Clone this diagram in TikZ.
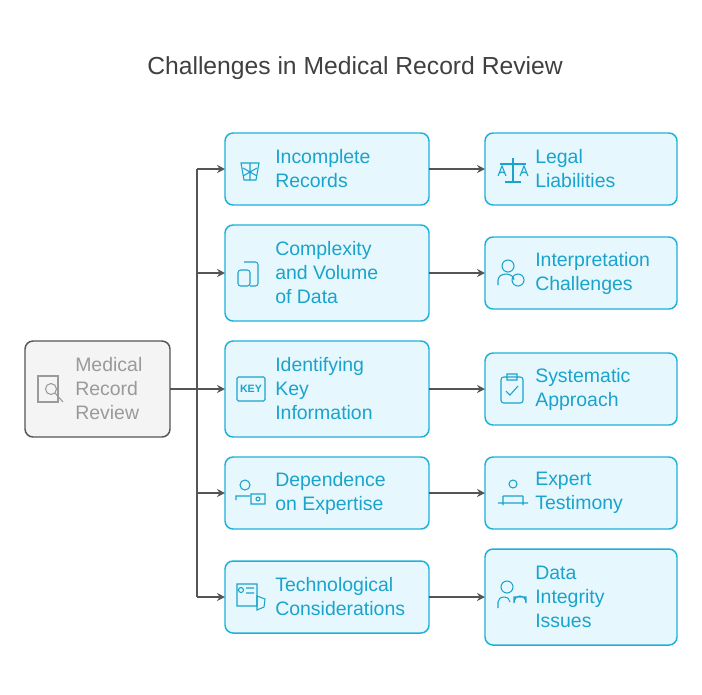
\documentclass[tikz,border=0pt]{standalone}
\usepackage{fontspec}
\setmainfont{Liberation Sans}
\usetikzlibrary{positioning,arrows.meta}
\definecolor{cyanfill}{HTML}{E6F8FD}
\definecolor{cyanline}{HTML}{1DB1DA}
\definecolor{cyantext}{HTML}{1AA3CC}
\definecolor{greyfill}{HTML}{F4F4F4}
\definecolor{greyline}{HTML}{555555}
\definecolor{greytext}{HTML}{9A9A9A}
\tikzset{
  box/.style={draw=cyanline, fill=cyanfill, rounded corners=6pt, line width=1.1pt},
  txt/.style={text=cyantext, font=\fontsize{14.6}{18}\selectfont, align=left, anchor=west, inner sep=0pt},
  icon/.style={draw=cyantext, line width=0.8pt},
  link/.style={draw=greyline, line width=1pt, -{Stealth[length=6pt,width=6pt]}}
}
\begin{document}
\begin{tikzpicture}[x=0.75pt,y=-0.75pt]
\useasboundingbox (0,0) rectangle (702,694);
\node (title) at (355,68) {\fontsize{18.5}{20}\selectfont\color{black!75}Challenges in Medical Record Review};

% left node
\draw[fill=greyfill, draw=greyline, rounded corners=6pt, line width=1.1pt] (25,341) rectangle (170,437);
\coordinate (src) at (170,389);
\node[txt, text=greytext] (srct) at (75,389) {Medical\\Record\\Review};
\draw[draw=greytext, line width=0.8pt] (38,376) rectangle (58,402);
\draw[draw=greytext, line width=0.8pt] (51,389) circle (5.5);
\draw[draw=greytext, line width=0.8pt] (55,393) -- (63,402);

% middle column
\foreach \n/\ya/\yb/\t in {1/133/205/{Incomplete\\Records},
                           2/225/321/{Complexity\\and Volume\\of Data},
                           3/341/437/{Identifying\\Key\\Information},
                           4/457/529/{Dependence\\on Expertise},
                           5/561/633/{Technological\\Considerations}}{
  \draw[box] (225,\ya) rectangle (429,\yb);
  \coordinate (m\n in) at (225,{(\ya+\yb)/2});
  \coordinate (m\n out) at (429,{(\ya+\yb)/2});
  \node[txt] (m\n) at (275,{(\ya+\yb)/2}) {\t};
}
% right column
\foreach \n/\ya/\yb/\t in {1/133/205/{Legal\\Liabilities},
                           2/237/309/{Interpretation\\Challenges},
                           3/353/425/{Systematic\\Approach},
                           4/457/529/{Expert\\Testimony},
                           5/549/645/{Data\\Integrity\\Issues}}{
  \draw[box] (485,\ya) rectangle (677,\yb);
  \coordinate (r\n in) at (485,{(\ya+\yb)/2});
  \node[txt] (r\n) at (535,{(\ya+\yb)/2}) {\t};
}

% icons
\draw[icon] (241,163) -- (259,163) -- (256,180) -- (244,180) -- cycle;
\draw[icon] (243,168) -- (257,176) (257,168) -- (243,176) (250,163) -- (250,180);
\draw[icon, rounded corners=2pt] (238,270) rectangle (250,286) (244,262) -- (258,262) -- (258,286) -- (250,286);
\draw[icon, rounded corners=1pt] (237,377) rectangle (265,401);
\node[text=cyantext, font=\bfseries\fontsize{8}{8}\selectfont] (keyi) at (251,389) {KEY};
\draw[icon] (245,485) circle (5) (236,500) -- (236,496) -- (250,496);
\draw[icon] (251,494) rectangle (265,504) (258,499) circle (2);
\draw[icon] (237,584) rectangle (257,606) (241,590) circle (2.5) (246,588) -- (254,588) (246,593) -- (254,593);
\draw[icon] (257,596) -- (265,599) -- (264,607) -- (257,610) -- cycle;
% right icons
\draw[icon] (500,164) -- (526,164) (513,158) -- (513,182) (505,182) -- (521,182);
\draw[icon] (498,176) -- (502,166) -- (506,176) (498,176) arc (180:360:4);
\draw[icon] (520,176) -- (524,166) -- (528,176) (520,176) arc (180:360:4);
\draw[icon] (508,266) circle (6) (498,285) -- (498,280) arc (180:360:8 and 6);
\draw[icon] (518,280) circle (6);
\draw[icon, rounded corners=2pt] (501,377) rectangle (523,403);
\draw[icon] (507,374) rectangle (517,380) (506,391) -- (510,395) -- (518,386);
\draw[icon] (513,484) circle (4) (503,496) -- (523,496) (503,496) -- (503,505) (523,496) -- (523,505) (498,503) -- (528,503);
\draw[icon] (507,587) circle (6) (498,608) -- (498,602) arc (180:360:6 and 5);
\draw[icon] (514,597) -- (526,597) -- (526,603) arc (0:-180:6 and 7) -- cycle;

% connectors
\coordinate (trunk) at (197,389);
\draw[draw=greyline, line width=1pt] (src) -- (trunk) (197,169) -- (197,597);
\foreach \n in {1,...,5}{
  \draw[link] (m\n in -| trunk) -- (m\n in);
  \draw[link] (m\n out) -- (r\n in);
}
\end{tikzpicture}
\end{document}
